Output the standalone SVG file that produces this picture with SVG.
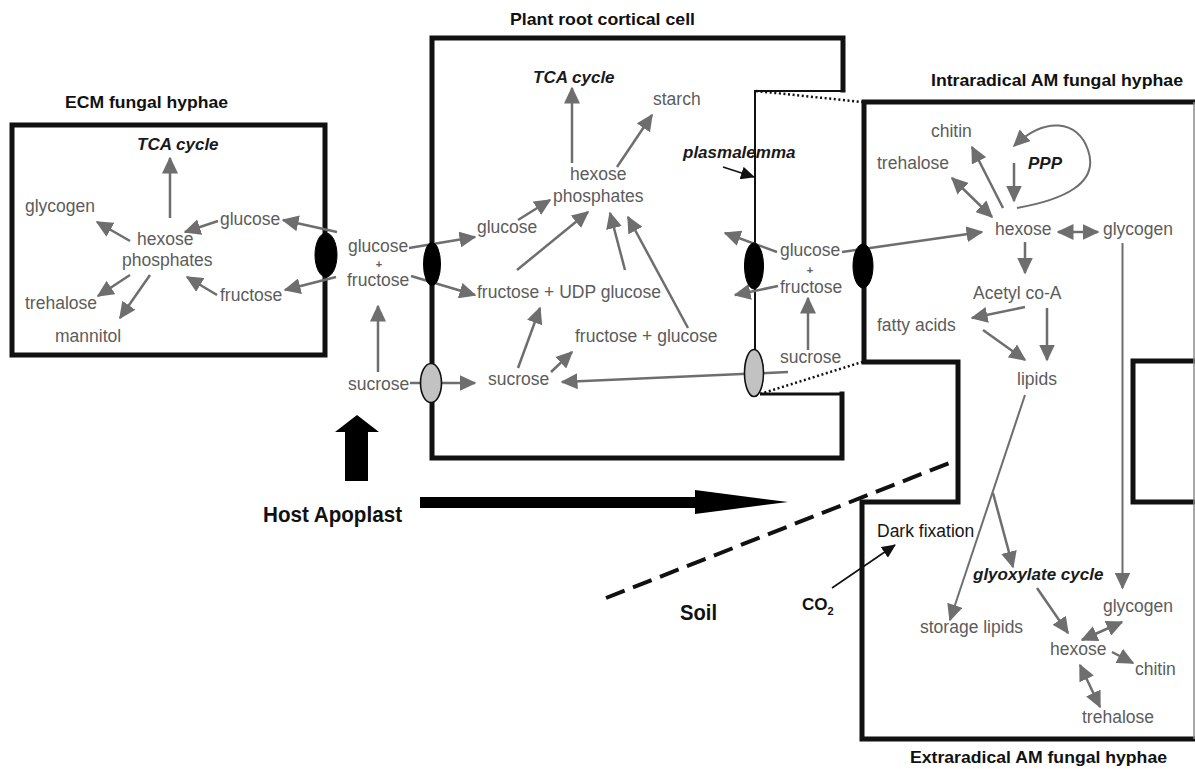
<svg xmlns="http://www.w3.org/2000/svg" width="1195" height="769" viewBox="0 0 1195 769">
<style>
.t{font-family:"Liberation Sans",Arial,sans-serif;font-size:17.5px;fill:#5c5c5c}
.pl{font-family:"Liberation Sans",Arial,sans-serif;font-size:11px;font-weight:bold;fill:#5c5c5c}
.bi{font-family:"Liberation Sans",Arial,sans-serif;font-size:17px;font-weight:bold;font-style:italic;fill:#1a1a1a}
.ti{font-family:"Liberation Sans",Arial,sans-serif;font-size:17px;font-weight:bold;fill:#111}
.big{font-family:"Liberation Sans",Arial,sans-serif;font-size:22px;font-weight:bold;fill:#111}
.dk{font-family:"Liberation Sans",Arial,sans-serif;font-size:17.5px;fill:#151515}
.wall{fill:none;stroke:#111;stroke-width:5;stroke-linejoin:miter;stroke-linecap:square}
.thin{fill:none;stroke:#111;stroke-width:2}
.dot{fill:none;stroke:#111;stroke-width:2.5;stroke-dasharray:2 2.6}
.arr{fill:none;stroke:#6e6e6e;stroke-width:2.5;marker-end:url(#ah)}
.dbl{fill:none;stroke:#6e6e6e;stroke-width:2.5;marker-end:url(#ah);marker-start:url(#ahs)}
.ln{fill:none;stroke:#6e6e6e;stroke-width:2}
.barr{fill:none;stroke:#111;stroke-width:1.6;marker-end:url(#bh)}
.ov{fill:#000;stroke:#000;stroke-width:1}
.gov{fill:#c2c2c2;stroke:#111;stroke-width:1.6}
</style>
<defs>
<marker id="ah" markerUnits="userSpaceOnUse" markerWidth="17" markerHeight="16" refX="15.5" refY="8" orient="auto"><path d="M0,0 L17,8 L0,16 z" fill="#6e6e6e"/></marker>
<marker id="ahs" markerUnits="userSpaceOnUse" markerWidth="17" markerHeight="16" refX="15.5" refY="8" orient="auto-start-reverse"><path d="M0,0 L17,8 L0,16 z" fill="#6e6e6e"/></marker>
<marker id="bh" markerUnits="userSpaceOnUse" markerWidth="14" markerHeight="13" refX="13" refY="6.5" orient="auto"><path d="M0,0 L14,6.5 L0,13 z" fill="#111"/></marker>
</defs>
<rect width="1195" height="769" fill="#fff"/>

<g id="compartments">
  <rect id="ecm-box" class="wall" x="12" y="125" width="313" height="230"/>
  <path id="plant-cell-wall" class="wall" d="M843,90 L843,38 L432,38 L432,458 L842,458 L842,394"/>
  <path id="plasmalemma-line" class="thin" d="M843,91 L755,91 L755,352"/>
  <path id="plasmalemma-bottom" fill="none" stroke="#111" stroke-width="3" d="M760,394 L843,394"/>
  <path id="intraradical-wall" class="wall" d="M1195,102 L864,102 L864,362 L958,362 L958,502 L862,502 L862,739 L1195,739"/>
  <path id="right-stub" class="wall" d="M1197,361 L1133,361 L1133,502 L1197,502"/>
  <line x1="1194" y1="102" x2="1194" y2="739" stroke="#8a8a8a" stroke-width="1.5"/>
  <line class="dot" x1="756" y1="91" x2="862" y2="102"/>
  <line class="dot" x1="760" y1="394" x2="862" y2="362"/>
  <line id="soil-boundary" x1="606" y1="598" x2="957" y2="460" stroke="#111" stroke-width="4" stroke-dasharray="20 9"/>
</g>

<g id="connectors">
  <line class="arr" x1="170" y1="218" x2="170" y2="158"/>
  <line class="arr" x1="130" y1="241" x2="97" y2="222"/>
  <line class="arr" x1="218" y1="221" x2="185" y2="232"/>
  <line class="arr" x1="217" y1="295" x2="187" y2="277"/>
  <line class="arr" x1="130" y1="275" x2="98" y2="296"/>
  <line class="arr" x1="150" y1="275" x2="120" y2="318"/>
  <line class="arr" x1="337" y1="232" x2="283" y2="220"/>
  <line class="arr" x1="336" y1="277" x2="285" y2="290"/>
  <line class="arr" x1="409" y1="248" x2="475" y2="237"/>
  <line class="arr" x1="411" y1="276" x2="475" y2="295"/>
  <line class="arr" x1="378" y1="372" x2="378" y2="306"/>
  <line class="arr" x1="410" y1="383" x2="475" y2="383"/>
  <line class="arr" x1="788" y1="372" x2="562" y2="382"/>
  <line class="arr" x1="551" y1="372" x2="572" y2="352"/>
  <line class="arr" x1="518" y1="368" x2="540" y2="308"/>
  <line class="arr" x1="518" y1="220" x2="550" y2="200"/>
  <line class="arr" x1="517" y1="270" x2="588" y2="212"/>
  <line class="arr" x1="625" y1="270" x2="610" y2="213"/>
  <line class="arr" x1="688" y1="328" x2="628" y2="217"/>
  <line class="arr" x1="572" y1="163" x2="572" y2="88"/>
  <line class="arr" x1="617" y1="167" x2="652" y2="115"/>
  <line class="arr" x1="777" y1="252" x2="725" y2="233"/>
  <line class="arr" x1="778" y1="286" x2="735" y2="295"/>
  <line class="arr" x1="808" y1="350" x2="808" y2="298"/>
  <line class="arr" x1="842" y1="252" x2="982" y2="232"/>
  <line class="arr" x1="1003" y1="208" x2="972" y2="147"/>
  <line class="dbl" x1="952" y1="178" x2="992" y2="217"/>
  <line class="arr" x1="1014" y1="163" x2="1014" y2="201"/>
  <path class="ln" marker-end="url(#ah)" d="M1017,208 C1062,200 1100,184 1088,150 C1078,120 1045,116 1014,146"/>
  <line class="dbl" x1="1058" y1="232" x2="1098" y2="232"/>
  <line class="arr" x1="1025" y1="242" x2="1025" y2="273"/>
  <line class="arr" x1="1025" y1="307" x2="972" y2="318"/>
  <line class="arr" x1="1047" y1="308" x2="1047" y2="360"/>
  <line class="arr" x1="983" y1="330" x2="1025" y2="360"/>
  <line class="ln" marker-end="url(#ah)" x1="1122.5" y1="243" x2="1122.5" y2="588"/>
  <line class="ln" marker-end="url(#ah)" x1="1025" y1="395" x2="950" y2="620"/>
  <line class="arr" x1="993" y1="493" x2="1013" y2="567"/>
  <line class="arr" x1="1037" y1="588" x2="1068" y2="633"/>
  <line class="dbl" x1="1082" y1="640" x2="1122" y2="622"/>
  <line class="arr" x1="1112" y1="652" x2="1133" y2="663"/>
  <line class="dbl" x1="1080" y1="665" x2="1100" y2="707"/>
  <line class="barr" x1="723" y1="167" x2="754" y2="177"/>
  <line class="barr" x1="832" y1="588" x2="895" y2="545"/>
  <polygon id="apoplast-up" points="357,415 379,432 368,432 368,481 345,481 345,432 335,432" fill="#000"/>
  <polygon id="apoplast-right" points="420,497 695,497 695,490 788,502 695,514 695,508 420,508" fill="#000"/>
</g>

<g id="transporters">
  <ellipse class="ov" cx="326" cy="255" rx="11" ry="22"/>
  <ellipse class="ov" cx="432" cy="264" rx="8.5" ry="21.5"/>
  <ellipse class="gov" cx="431" cy="383" rx="10.5" ry="19.5"/>
  <ellipse class="ov" cx="754" cy="266" rx="9.5" ry="23"/>
  <ellipse class="gov" cx="754" cy="373" rx="9.5" ry="23.5"/>
  <ellipse class="ov" cx="863" cy="266" rx="10" ry="22"/>
</g>

<g id="titles">
  <text class="ti" x="65" y="108" textLength="163" lengthAdjust="spacingAndGlyphs">ECM fungal hyphae</text>
  <text class="ti" x="510" y="25" textLength="185" lengthAdjust="spacingAndGlyphs">Plant root cortical cell</text>
  <text class="ti" x="931" y="86" textLength="252" lengthAdjust="spacingAndGlyphs">Intraradical AM fungal hyphae</text>
  <text class="ti" x="910" y="763" textLength="257" lengthAdjust="spacingAndGlyphs">Extraradical AM fungal hyphae</text>
  <text class="big" x="263" y="522" textLength="139" lengthAdjust="spacingAndGlyphs">Host Apoplast</text>
  <text class="big" x="680" y="620" textLength="37" lengthAdjust="spacingAndGlyphs">Soil</text>
</g>

<g id="ecm-nodes">
  <g id="ecm-tca"><text class="bi" x="137" y="150">TCA cycle</text></g>
  <g id="ecm-glycogen"><text class="t" x="25" y="212">glycogen</text></g>
  <g id="ecm-hexose"><text class="t" x="137" y="245">hexose</text><text class="t" x="122" y="266">phosphates</text></g>
  <g id="ecm-glucose"><text class="t" x="220" y="225">glucose</text></g>
  <g id="ecm-fructose"><text class="t" x="220" y="301">fructose</text></g>
  <g id="ecm-trehalose"><text class="t" x="25" y="309">trehalose</text></g>
  <g id="ecm-mannitol"><text class="t" x="55" y="342">mannitol</text></g>
</g>

<g id="apoplast-nodes">
  <g id="apo-glcfru"><text class="t" x="348" y="252">glucose</text><text class="pl" x="379" y="267.6" text-anchor="middle">+</text><text class="t" x="347" y="286">fructose</text></g>
  <g id="apo-sucrose"><text class="t" x="348" y="390">sucrose</text></g>
</g>

<g id="plant-nodes">
  <g id="pl-tca"><text class="bi" x="533" y="83">TCA cycle</text></g>
  <g id="pl-starch"><text class="t" x="653" y="105">starch</text></g>
  <g id="pl-hexose"><text class="t" x="570" y="180">hexose</text><text class="t" x="553" y="202">phosphates</text></g>
  <g id="pl-glucose"><text class="t" x="477" y="233">glucose</text></g>
  <g id="pl-udp"><text class="t" x="477" y="298">fructose + UDP glucose</text></g>
  <g id="pl-frglc"><text class="t" x="575" y="342">fructose + glucose</text></g>
  <g id="pl-sucrose"><text class="t" x="488" y="385">sucrose</text></g>
  <g id="pl-plasmalemma"><text class="bi" x="683" y="158">plasmalemma</text></g>
</g>

<g id="interface-nodes">
  <g id="if-glcfru"><text class="t" x="780" y="256">glucose</text><text class="pl" x="810" y="274" text-anchor="middle">+</text><text class="t" x="780" y="293">fructose</text></g>
  <g id="if-sucrose"><text class="t" x="780" y="363">sucrose</text></g>
</g>

<g id="intraradical-nodes">
  <g id="ir-chitin"><text class="t" x="931" y="137">chitin</text></g>
  <g id="ir-trehalose"><text class="t" x="877" y="169">trehalose</text></g>
  <g id="ir-ppp"><text class="bi" x="1028" y="169">PPP</text></g>
  <g id="ir-hexose"><text class="t" x="995" y="235">hexose</text></g>
  <g id="ir-glycogen"><text class="t" x="1103" y="235">glycogen</text></g>
  <g id="ir-acetyl"><text class="t" x="973" y="299">Acetyl co-A</text></g>
  <g id="ir-fatty"><text class="t" x="877" y="331">fatty acids</text></g>
  <g id="ir-lipids"><text class="t" x="1017" y="385">lipids</text></g>
</g>

<g id="extraradical-nodes">
  <g id="er-dark"><text class="dk" x="877" y="537">Dark fixation</text></g>
  <g id="er-glyox"><text class="bi" x="973" y="580">glyoxylate cycle</text></g>
  <g id="er-storage"><text class="t" x="920" y="633">storage lipids</text></g>
  <g id="er-glycogen"><text class="t" x="1103" y="612">glycogen</text></g>
  <g id="er-hexose"><text class="t" x="1050" y="655">hexose</text></g>
  <g id="er-chitin"><text class="t" x="1135" y="675">chitin</text></g>
  <g id="er-trehalose"><text class="t" x="1082" y="723">trehalose</text></g>
  <g id="er-co2"><text class="ti" x="802" y="610" font-size="16">CO<tspan font-size="11" dy="5">2</tspan></text></g>
</g>
</svg>
